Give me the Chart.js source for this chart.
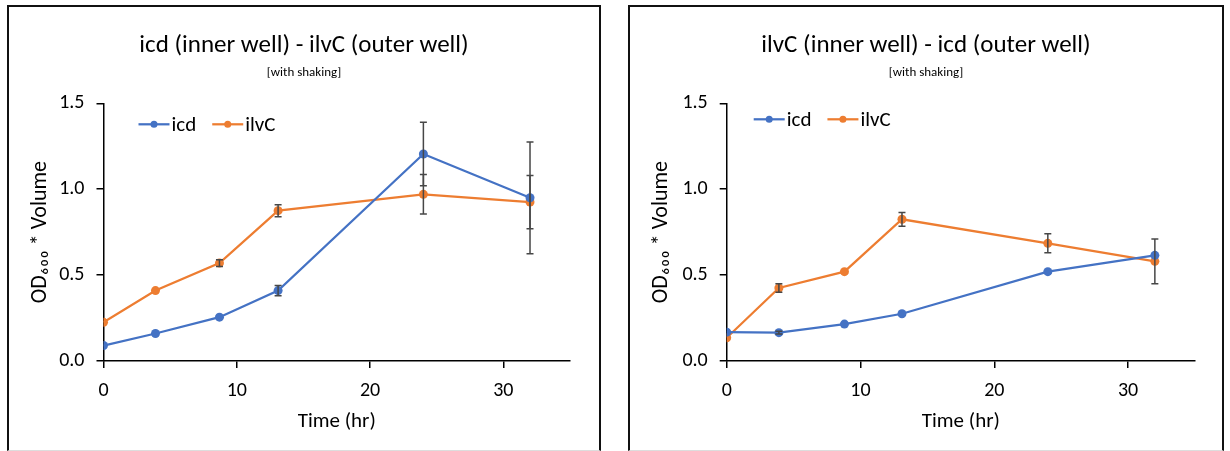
<!DOCTYPE html>
<html>
<head>
<meta charset="utf-8">
<script src="https://cdn.jsdelivr.net/npm/chart.js@4.4.1/dist/chart.umd.min.js"></script>
<style>
  html, body { margin: 0; padding: 0; background: #fff; width: 1230px; height: 451px; overflow: hidden; }
  .panel { position: absolute; top: 5px; height: 446px; border-top: 2px solid #111; border-left: 2px solid #111; border-right: 2px solid #111; border-bottom: 1px solid #ddd; box-sizing: border-box; }
  canvas { position: absolute; }
</style>
</head>
<body>
<div class="panel" style="left:7px; width:594px;"></div>
<div class="panel" style="left:628px; width:596px;"></div>
<canvas id="c1" width="590" height="444" style="left:9px; top:7px;"></canvas>
<canvas id="c2" width="592" height="444" style="left:630px; top:7px;"></canvas>
<script>
// ---- data ----
const seriesNames = ['icd', 'ilvC'];
const xTicks = [0, 10, 20, 30];
const yTicks = [0, 0.5, 1.0, 1.5];

// Left chart: icd (inner well) - ilvC (outer well)
const leftTitle = 'icd (inner well) - ilvC (outer well)';
const leftSubtitle = '[with shaking]';
const leftTime = [0, 3.9, 8.7, 13.1, 24, 32];
const leftIcd = [0.09, 0.16, 0.255, 0.41, 1.205, 0.95];
const leftIcdErr = [0, 0, 0, 0.03, 0.185, 0.325];
const leftIlvC = [0.225, 0.41, 0.57, 0.875, 0.97, 0.925];
const leftIlvCErr = [0, 0, 0.02, 0.035, 0.115, 0.155];

// Right chart: ilvC (inner well) - icd (outer well)
const rightTitle = 'ilvC (inner well) - icd (outer well)';
const rightSubtitle = '[with shaking]';
const rightTime = [0, 3.9, 8.8, 13.1, 24, 32];
const rightIcd = [0.168, 0.165, 0.215, 0.275, 0.52, 0.615];
const rightIcdErr = [0, 0.008, 0, 0, 0, 0];
const rightIlvC = [0.135, 0.425, 0.52, 0.825, 0.685, 0.58];
const rightIlvCErr = [0, 0.025, 0, 0.04, 0.055, 0.13];

const xAxisTitle = 'Time (hr)';
const yAxisTitle = 'OD\u2086\u2080\u2080 * Volume';

// ---- styling ----
const FONT = "Carlito, Lato, 'Liberation Sans', sans-serif";
const BLUE = '#4472C4';
const ORANGE = '#ED7D31';
const ERR = '#474747';

const errorBarPlugin = {
  id: 'errorBars',
  afterDatasetsDraw(chart) {
    const ctx = chart.ctx;
    const xs = chart.scales.x, ys = chart.scales.y;
    ctx.save();
    ctx.strokeStyle = ERR;
    ctx.lineWidth = 1.5;
    chart.data.datasets.forEach(ds => {
      (ds.errors || []).forEach((e, i) => {
        if (!(e > 0)) return;
        const p = ds.data[i];
        const x = xs.getPixelForValue(p.x);
        const yt = ys.getPixelForValue(p.y + e);
        const yb = ys.getPixelForValue(p.y - e);
        ctx.beginPath();
        ctx.moveTo(x, yt); ctx.lineTo(x, yb);
        ctx.moveTo(x - 3.5, yt); ctx.lineTo(x + 3.5, yt);
        ctx.moveTo(x - 3.5, yb); ctx.lineTo(x + 3.5, yb);
        ctx.stroke();
      });
    });
    ctx.restore();
  }
};

const headingPlugin = {
  id: 'heading',
  afterDraw(chart, args, opts) {
    const ctx = chart.ctx;
    const cx = chart.width / 2;
    ctx.save();
    ctx.fillStyle = '#000';
    ctx.textAlign = 'center';
    ctx.textBaseline = 'middle';
    ctx.font = '25px ' + FONT;
    ctx.fillText(opts.title, cx, 39);
    ctx.font = '13px ' + FONT;
    ctx.fillText(opts.subtitle, cx, 66);
    ctx.restore();
  }
};

const innerLegendPlugin = {
  id: 'innerLegend',
  afterDraw(chart, args, opts) {
    const ctx = chart.ctx;
    const area = chart.chartArea;
    let x = area.left + opts.dx;
    const y = area.top + opts.dy;
    ctx.save();
    ctx.font = '21px ' + FONT;
    ctx.textBaseline = 'middle';
    chart.data.datasets.forEach(ds => {
      ctx.strokeStyle = ds.borderColor;
      ctx.lineWidth = 2.25;
      ctx.beginPath();
      ctx.moveTo(x, y); ctx.lineTo(x + 31, y);
      ctx.stroke();
      ctx.fillStyle = ds.borderColor;
      ctx.beginPath();
      ctx.arc(x + 15.5, y, 3.5, 0, Math.PI * 2);
      ctx.fill();
      ctx.fillStyle = '#000';
      ctx.fillText(ds.label, x + 33, y + 1);
      x += 33 + ctx.measureText(ds.label).width + 16;
    });
    ctx.restore();
  }
};

function makeChart(id, title, subtitle, time, icd, icdErr, ilvC, ilvCErr, legendPos, padRight, yWidth) {
  const pts = (arr) => time.map((t, i) => ({ x: t, y: arr[i] }));
  const ds = (label, arr, err, color) => ({
    label, data: pts(arr), errors: err,
    borderColor: color, backgroundColor: color,
    borderWidth: 2.25, pointRadius: 4.5, pointBackgroundColor: color, pointBorderWidth: 0,
    tension: 0, fill: false
  });
  return new Chart(document.getElementById(id), {
    type: 'line',
    data: { datasets: [ds(seriesNames[0], icd, icdErr, BLUE), ds(seriesNames[1], ilvC, ilvCErr, ORANGE)] },
    options: {
      responsive: false,
      animation: false,
      devicePixelRatio: 1,
      layout: { padding: { left: 0, right: padRight, top: 96.3, bottom: 0 } },
      plugins: {
        legend: { display: false },
        tooltip: { enabled: false },
        title: { display: false },
        heading: { title, subtitle },
        innerLegend: legendPos
      },
      scales: {
        x: {
          type: 'linear', min: 0, max: 35,
          afterBuildTicks: s => { s.ticks = xTicks.map(v => ({ value: v })); },
          afterFit: s => { s.height = 90; },
          grid: { display: true, drawOnChartArea: false, drawTicks: true, tickLength: 7, color: '#000', lineWidth: 1.5 },
          border: { display: true, color: '#000', width: 1.5 },
          ticks: { color: '#000', font: { family: FONT, size: 20 }, padding: 11, maxRotation: 0 },
          title: { display: true, text: xAxisTitle, color: '#000', font: { family: FONT, size: 21 }, padding: { top: 0, bottom: 17 } }
        },
        y: {
          type: 'linear', min: 0, max: 1.5,
          afterBuildTicks: s => { s.ticks = yTicks.map(v => ({ value: v })); },
          afterFit: s => { s.width = yWidth; },
          grid: { display: true, drawOnChartArea: false, drawTicks: true, tickLength: 7, color: '#000', lineWidth: 1.5 },
          border: { display: true, color: '#000', width: 1.5 },
          ticks: { color: '#000', font: { family: FONT, size: 20 }, padding: 12, callback: v => Number(v).toFixed(1) },
          title: { display: true, text: yAxisTitle, color: '#000', font: { family: FONT, size: 22 }, padding: { top: 18, bottom: 0 } }
        }
      }
    },
    plugins: [errorBarPlugin, innerLegendPlugin, headingPlugin]
  });
}

makeChart('c1', leftTitle, leftSubtitle, leftTime, leftIcd, leftIcdErr, leftIlvC, leftIlvCErr, { dx: 35, dy: 21 }, 29, 94.5);
makeChart('c2', rightTitle, rightSubtitle, rightTime, rightIcd, rightIcdErr, rightIlvC, rightIlvCErr, { dx: 27, dy: 16 }, 27, 96.7);
</script>
</body>
</html>
